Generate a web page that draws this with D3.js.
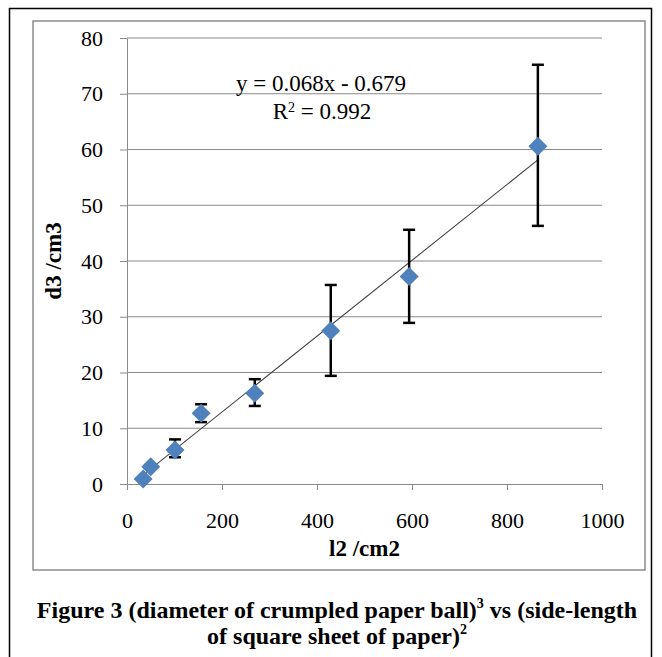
<!DOCTYPE html>
<html>
<head>
<meta charset="utf-8">
<script src="https://cdn.jsdelivr.net/npm/d3@7"></script>
<style>
  html, body { margin: 0; padding: 0; background: #fff; }
  svg { display: block; }
  svg text { font-family: "Liberation Serif", "DejaVu Serif", serif; }
</style>
</head>
<body>
<svg id="chart" width="662" height="657"></svg>
<script>
// ---- Data ----
const xValues = [34, 50, 101, 156, 269, 429, 594, 865];
const yValues = [0.9, 3.1, 6.1, 12.7, 16.3, 27.5, 37.2, 60.6];
const errUpper = [null, null, 8.0, 14.3, 18.8, 35.7, 45.6, 75.2];
const errLower = [null, null, 4.8, 11.1, 14.0, 19.4, 28.9, 46.3];
const xTicks = [0, 200, 400, 600, 800, 1000];
const yTicks = [0, 10, 20, 30, 40, 50, 60, 70, 80];
const trendSlope = 0.068;
const trendIntercept = -0.679;
const equationText = "y = 0.068x - 0.679";
const r2Text = "0.992";

const svg = d3.select("#chart");

// Frames
svg.append("rect").attr("x", 9.5).attr("y", 8.5).attr("width", 642).attr("height", 660)
  .attr("fill", "none").attr("stroke", "#000").attr("stroke-width", 1.5);
svg.append("rect").attr("x", 33).attr("y", 21).attr("width", 612).attr("height", 549)
  .attr("fill", "none").attr("stroke", "#8c8c8c").attr("stroke-width", 1.5);

const x = d3.scaleLinear().domain([0, 1000]).range([127, 602]);
const y = d3.scaleLinear().domain([0, 80]).range([484, 38]);

// Gridlines
svg.append("g").selectAll("line").data(yTicks.filter(t => t > 0)).join("line")
  .attr("x1", x(0)).attr("x2", x(1000))
  .attr("y1", d => y(d)).attr("y2", d => y(d))
  .attr("stroke", "#8a8a8a").attr("stroke-width", 1);

// Y axis
const yAxis = svg.append("g").attr("transform", `translate(${x(0)},0)`)
  .call(d3.axisLeft(y).tickValues(yTicks).tickFormat(d3.format("d")).tickSize(7).tickPadding(17).tickSizeOuter(0));
yAxis.attr("font-family", null);
yAxis.select(".domain").attr("stroke", "#8a8a8a");
yAxis.selectAll(".tick line").attr("stroke", "#8a8a8a");
yAxis.selectAll("text").style("font-size", "22px").attr("fill", "#000");

// X axis
const xAxis = svg.append("g").attr("transform", `translate(0,${y(0)})`)
  .call(d3.axisBottom(x).tickValues(xTicks).tickFormat(d3.format("d")).tickSize(6).tickPadding(22).tickSizeOuter(0));
xAxis.attr("font-family", null);
xAxis.select(".domain").attr("stroke", "#8a8a8a");
xAxis.selectAll(".tick line").attr("stroke", "#8a8a8a");
xAxis.selectAll("text").style("font-size", "22px").attr("fill", "#000");

// Axis titles
svg.append("text").attr("x", x(500)).attr("y", 556).attr("text-anchor", "middle")
  .style("font-size", "23px").attr("font-weight", "bold").text("l2 /cm2");
svg.append("text").attr("transform", `translate(61,${y(40)}) rotate(-90)`).attr("text-anchor", "middle")
  .style("font-size", "23px").attr("font-weight", "bold").text("d3 /cm3");

// Trend line
const xMin = d3.min(xValues), xMax = d3.max(xValues);
svg.append("line")
  .attr("x1", x(xMin)).attr("y1", y(trendSlope * xMin + trendIntercept))
  .attr("x2", x(xMax)).attr("y2", y(trendSlope * xMax + trendIntercept))
  .attr("stroke", "#444").attr("stroke-width", 1.1);

// Error bars
const points = xValues.map((v, i) => ({x: v, y: yValues[i], hi: errUpper[i], lo: errLower[i]}));
const eb = svg.append("g").selectAll("g").data(points.filter(d => d.hi != null)).join("g")
  .attr("stroke", "#000").attr("stroke-width", 2.5);
eb.append("line").attr("x1", d => x(d.x)).attr("x2", d => x(d.x))
  .attr("y1", d => y(d.hi)).attr("y2", d => y(d.lo));
eb.append("line").attr("x1", d => x(d.x) - 6).attr("x2", d => x(d.x) + 6)
  .attr("y1", d => y(d.hi)).attr("y2", d => y(d.hi));
eb.append("line").attr("x1", d => x(d.x) - 6).attr("x2", d => x(d.x) + 6)
  .attr("y1", d => y(d.lo)).attr("y2", d => y(d.lo));

// Markers (diamonds)
const s = 9.5;
svg.append("g").selectAll("path").data(points).join("path")
  .attr("d", d => {
    const cx = x(d.x), cy = y(d.y);
    return `M${cx},${cy - s}L${cx + s},${cy}L${cx},${cy + s}L${cx - s},${cy}Z`;
  })
  .attr("fill", "#4F81BD");

// Equation
svg.append("text").attr("x", 321).attr("y", 91).attr("text-anchor", "middle")
  .style("font-size", "23px").text(equationText);
const r2 = svg.append("text").attr("x", 322).attr("y", 119).attr("text-anchor", "middle")
  .style("font-size", "23px");
r2.append("tspan").text("R");
r2.append("tspan").style("font-size", "14px").attr("dy", -7).text("2");
r2.append("tspan").attr("dy", 7).text(" = " + r2Text);

// Caption
const cap1 = svg.append("text").attr("x", 337).attr("y", 618).attr("text-anchor", "middle")
  .style("font-size", "24px").attr("font-weight", "bold");
cap1.append("tspan").text("Figure 3 (diameter of crumpled paper ball)");
cap1.append("tspan").style("font-size", "14px").attr("dy", -10).text("3");
cap1.append("tspan").attr("dy", 10).text(" vs (side-length");
const cap2 = svg.append("text").attr("x", 337).attr("y", 644).attr("text-anchor", "middle")
  .style("font-size", "24px").attr("font-weight", "bold");
cap2.append("tspan").text("of square sheet of paper)");
cap2.append("tspan").style("font-size", "14px").attr("dy", -10).text("2");
</script>
</body>
</html>
